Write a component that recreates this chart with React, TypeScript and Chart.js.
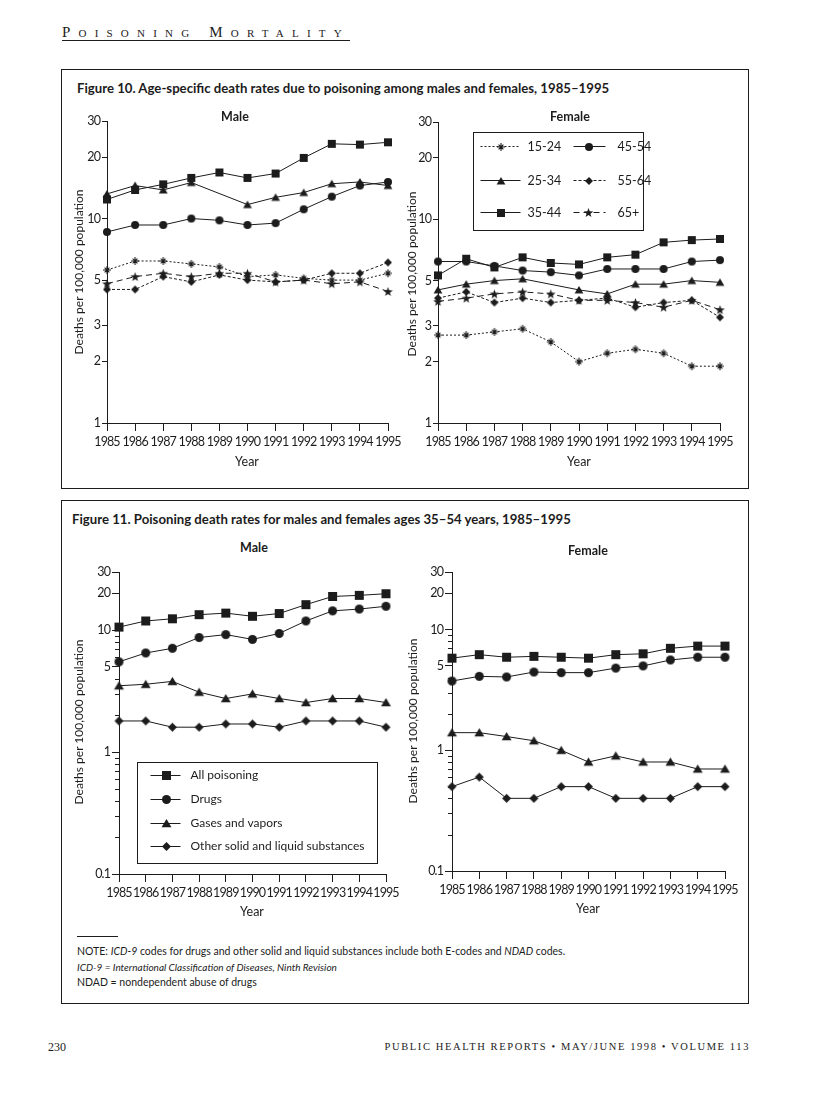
import React, { useEffect, useRef } from 'react';
import { Chart, registerables } from 'chart.js';

Chart.register(...registerables);

// ---------------- DATA ----------------
const YEARS = ['1985', '1986', '1987', '1988', '1989', '1990', '1991', '1992', '1993', '1994', '1995'];

const FIG10_TICKS = [1, 2, 3, 5, 10, 20, 30];
const FIG11_TICKS = [0.1, 1, 5, 10, 20, 30];
const FIG11_MINOR_TICKS = [0.2, 0.3, 0.4, 0.5, 0.6, 0.7, 0.8, 0.9, 2, 3, 4, 6, 7, 8, 9];

const AGE_GROUPS = ['15-24', '25-34', '35-44', '45-54', '55-64', '65+'];
const CAUSES = ['All poisoning', 'Drugs', 'Gases and vapors', 'Other solid and liquid substances'];

// Figure 10, male (deaths per 100,000)
const MALE_15_24 = [5.6, 6.2, 6.2, 6.0, 5.8, 5.2, 5.3, 5.1, 5.0, 5.0, 5.4];
const MALE_25_34 = [13.2, 14.5, 13.8, 15.0, null, 11.7, 12.7, 13.4, 14.8, 15.1, 14.5];
const MALE_35_44 = [12.4, 13.8, 14.7, 15.8, 16.8, 15.8, 16.6, 19.8, 23.2, 23.0, 23.6];
const MALE_45_54 = [8.6, 9.3, 9.3, 10.0, 9.8, 9.3, 9.5, 11.1, 12.8, 14.5, 15.1];
const MALE_55_64 = [4.5, 4.5, 5.2, 4.9, 5.3, 5.0, 4.9, 5.0, 5.4, 5.4, 6.1];
const MALE_65P = [4.8, 5.2, 5.4, 5.2, 5.4, 5.4, 4.9, 5.0, 4.8, 4.9, 4.4];

// Figure 10, female
const FEMALE_15_24 = [2.7, 2.7, 2.8, 2.9, 2.5, 2.0, 2.2, 2.3, 2.2, 1.9, 1.9];
const FEMALE_25_34 = [4.5, 4.8, 5.0, 5.1, null, 4.5, 4.3, 4.8, 4.8, 5.0, 4.9];
const FEMALE_35_44 = [5.3, 6.4, 5.8, 6.5, 6.1, 6.0, 6.5, 6.7, 7.7, 7.9, 8.0];
const FEMALE_45_54 = [6.2, 6.2, 5.9, 5.6, 5.5, 5.3, 5.7, 5.7, 5.7, 6.2, 6.3];
const FEMALE_55_64 = [4.1, 4.4, 3.9, 4.1, 3.9, 4.0, 4.1, 3.7, 3.9, 4.0, 3.3];
const FEMALE_65P = [3.95, 4.1, 4.3, 4.4, 4.3, 4.0, 4.0, 3.9, 3.7, 4.0, 3.6];

// Figure 11, ages 35-54, male
const MALE_ALL = [10.6, 11.9, 12.4, 13.4, 13.8, 13.0, 13.7, 16.2, 18.9, 19.3, 19.9];
const MALE_DRUGS = [5.5, 6.5, 7.1, 8.7, 9.2, 8.4, 9.4, 11.9, 14.4, 14.9, 15.7];
const MALE_GASES = [3.5, 3.6, 3.8, 3.1, 2.75, 3.0, 2.75, 2.55, 2.75, 2.75, 2.55];
const MALE_OTHER = [1.8, 1.8, 1.6, 1.6, 1.7, 1.7, 1.6, 1.8, 1.8, 1.8, 1.6];

// Figure 11, ages 35-54, female
const FEMALE_ALL = [5.8, 6.2, 5.9, 6.0, 5.9, 5.8, 6.2, 6.3, 7.0, 7.3, 7.3];
const FEMALE_DRUGS = [3.75, 4.1, 4.05, 4.45, 4.4, 4.4, 4.8, 5.0, 5.6, 5.9, 5.9];
const FEMALE_GASES = [1.4, 1.4, 1.3, 1.2, 1.0, 0.8, 0.9, 0.8, 0.8, 0.7, 0.7];
const FEMALE_OTHER = [0.5, 0.6, 0.4, 0.4, 0.5, 0.5, 0.4, 0.4, 0.4, 0.5, 0.5];

// ---------------- STYLE ----------------
const SANS = 'Lato, "Noto Sans", "DejaVu Sans", sans-serif';
const SERIF = '"Liberation Serif", "DejaVu Serif", serif';
const INK = '#1c1c1c';

Chart.defaults.font.family = SANS;
Chart.defaults.color = INK;

type MarkerKind = 'square' | 'circle' | 'triangle' | 'diamond' | 'asterisk' | 'star';

function makeMarker(kind: MarkerKind, size: number): HTMLCanvasElement {
  const pad = 2;
  const s = size + pad * 2;
  const c = document.createElement('canvas');
  c.width = s;
  c.height = s;
  const g = c.getContext('2d')!;
  g.fillStyle = INK;
  g.strokeStyle = INK;
  g.lineWidth = 1;
  const m = s / 2;
  const h = size / 2;
  g.beginPath();
  if (kind === 'square') {
    g.rect(m - h, m - h, size, size);
    g.fill();
  } else if (kind === 'circle') {
    g.arc(m, m, h, 0, Math.PI * 2);
    g.fill();
  } else if (kind === 'triangle') {
    g.moveTo(m, m - h);
    g.lineTo(m + h * 1.1, m + h * 0.85);
    g.lineTo(m - h * 1.1, m + h * 0.85);
    g.closePath();
    g.fill();
  } else if (kind === 'diamond') {
    g.moveTo(m, m - h);
    g.lineTo(m + h, m);
    g.lineTo(m, m + h);
    g.lineTo(m - h, m);
    g.closePath();
    g.fill();
  } else if (kind === 'asterisk') {
    for (let k = 0; k < 4; k++) {
      const a = (k * Math.PI) / 4;
      const r = k % 2 === 0 ? h : h * 0.85;
      g.moveTo(m + Math.cos(a) * r, m - Math.sin(a) * r);
      g.lineTo(m - Math.cos(a) * r, m + Math.sin(a) * r);
    }
    g.lineWidth = 1.1;
    g.stroke();
  } else if (kind === 'star') {
    for (let k = 0; k < 10; k++) {
      const r = k % 2 === 0 ? h + 0.5 : h * 0.45;
      const a = -Math.PI / 2 + (k * Math.PI) / 5;
      const px = m + Math.cos(a) * r;
      const py = m + 0.5 + Math.sin(a) * r;
      if (k === 0) g.moveTo(px, py);
      else g.lineTo(px, py);
    }
    g.closePath();
    g.fill();
  }
  return c;
}

type Series = { label: string; data: (number | null)[]; marker: MarkerKind; size: number; dash: number[] };

type LegendCfg = {
  dx: number;
  dy: number;
  w: number;
  h: number;
  rows: number[];
  cols: { l: number; r: number; m: number; t: number }[];
  place: { row: number; col: number }[];
  fontSize: number;
};

type PanelCfg = {
  box: { x: number; y: number; w: number; h: number };
  plot: { l: number; t: number; r: number; b: number };
  yMin: number;
  yMax: number;
  ticks: number[];
  minor?: number[];
  yTickLen: number;
  series: Series[];
  legend?: LegendCfg;
};

function LogPanel({ cfg }: { cfg: PanelCfg }) {
  const ref = useRef<HTMLCanvasElement>(null);
  useEffect(() => {
    const canvas = ref.current!;
    const { box, plot } = cfg;
    const yWidth = plot.l - box.x;
    const padTop = plot.t - box.y;
    const padRight = box.x + box.w - plot.r;
    const xHeight = box.y + box.h - plot.b;
    const markers = cfg.series.map((s) => makeMarker(s.marker, s.size));

    const extras = {
      id: 'panelExtras',
      beforeDraw(chart: any) {
        // slightly tighter numerals, closer to the original typeface
        (chart.ctx as any).letterSpacing = '-0.9px';
      },
      afterDatasetsDraw(chart: any) {
        (chart.ctx as any).letterSpacing = '0px';
      },
      afterDraw(chart: any) {
        const ctx = chart.ctx as CanvasRenderingContext2D;
        (ctx as any).letterSpacing = '0px';
        const area = chart.chartArea;
        const yScale = chart.scales.y;
        if (cfg.minor) {
          ctx.save();
          ctx.strokeStyle = INK;
          ctx.lineWidth = 1;
          ctx.beginPath();
          for (const v of cfg.minor) {
            const y = Math.round(yScale.getPixelForValue(v)) + 0.5;
            ctx.moveTo(area.left - 4, y);
            ctx.lineTo(area.left, y);
          }
          ctx.stroke();
          ctx.restore();
        }
        const lg = cfg.legend;
        if (lg) {
          ctx.save();
          const bx = Math.round(area.left + lg.dx) + 0.5;
          const by = Math.round(area.top + lg.dy) + 0.5;
          ctx.fillStyle = '#fff';
          ctx.fillRect(bx, by, lg.w, lg.h);
          ctx.strokeStyle = INK;
          ctx.lineWidth = 1;
          ctx.strokeRect(bx, by, lg.w, lg.h);
          cfg.series.forEach((s, i) => {
            const p = lg.place[i];
            const col = lg.cols[p.col];
            const y = Math.round(by + lg.rows[p.row]) + 0.5;
            ctx.beginPath();
            ctx.setLineDash(s.dash);
            ctx.moveTo(bx + col.l, y);
            ctx.lineTo(bx + col.r, y);
            ctx.stroke();
            ctx.setLineDash([]);
            const mk = markers[i];
            ctx.drawImage(mk, Math.round(bx + col.m - mk.width / 2), Math.round(y - mk.height / 2));
            ctx.fillStyle = INK;
            ctx.font = `${lg.fontSize}px ${SANS}`;
            ctx.textBaseline = 'middle';
            ctx.textAlign = 'left';
            ctx.fillText(s.label, bx + col.t, y);
          });
          ctx.restore();
        }
      },
    };

    const chart = new Chart(canvas, {
      type: 'line',
      data: {
        labels: YEARS,
        datasets: cfg.series.map((s, i) => ({
          label: s.label,
          data: s.data,
          borderColor: INK,
          backgroundColor: INK,
          borderWidth: 1,
          borderDash: s.dash,
          pointStyle: markers[i],
          pointRadius: 4,
          spanGaps: true,
          clip: false,
          fill: false,
          tension: 0,
        })),
      } as any,
      options: {
        responsive: false,
        animation: false,
        devicePixelRatio: 1,
        events: [],
        layout: { padding: { left: 0, top: padTop, right: padRight, bottom: 0 } },
        plugins: { legend: { display: false }, tooltip: { enabled: false }, title: { display: false } },
        scales: {
          x: {
            type: 'category',
            offset: false,
            grid: { display: true, drawOnChartArea: false, drawTicks: true, tickLength: 8, color: INK, tickColor: INK },
            border: { display: true, color: INK, width: 1 },
            ticks: {
              autoSkip: false,
              maxRotation: 0,
              minRotation: 0,
              padding: 3,
              color: INK,
              font: { family: SANS, size: 12.5 },
            },
            afterFit: (s: any) => {
              s.height = xHeight;
            },
          },
          y: {
            type: 'logarithmic',
            min: cfg.yMin,
            max: cfg.yMax,
            afterBuildTicks: (s: any) => {
              s.ticks = cfg.ticks.map((v) => ({ value: v }));
            },
            grid: { display: true, drawOnChartArea: false, drawTicks: true, tickLength: cfg.yTickLen, color: INK, tickColor: INK },
            border: { display: true, color: INK, width: 1 },
            ticks: {
              autoSkip: false,
              padding: 2,
              color: INK,
              font: { family: SANS, size: 12.5 },
              callback: (v: any) => String(v),
            },
            afterFit: (s: any) => {
              s.width = yWidth;
            },
          },
        },
      } as any,
      plugins: [extras],
    });
    return () => chart.destroy();
  }, [cfg]);

  return (
    <canvas
      ref={ref}
      width={cfg.box.w}
      height={cfg.box.h}
      style={{ position: 'absolute', left: cfg.box.x, top: cfg.box.y, width: cfg.box.w, height: cfg.box.h }}
    />
  );
}

const AGE_MARKERS: MarkerKind[] = ['asterisk', 'triangle', 'square', 'circle', 'diamond', 'star'];
const AGE_DASHES = [[2, 2], [], [], [], [3, 2], [6, 4]];
const AGE_SIZES = [8, 8, 8, 8, 8, 9];
const CAUSE_MARKERS: MarkerKind[] = ['square', 'circle', 'triangle', 'diamond'];
const CAUSE_SIZES = [9, 9, 9, 9];

const ageSeries = (rows: (number | null)[][]): Series[] =>
  rows.map((d, i) => ({ label: AGE_GROUPS[i], data: d, marker: AGE_MARKERS[i], size: AGE_SIZES[i], dash: AGE_DASHES[i] }));
const causeSeries = (rows: (number | null)[][]): Series[] =>
  rows.map((d, i) => ({ label: CAUSES[i], data: d, marker: CAUSE_MARKERS[i], size: CAUSE_SIZES[i], dash: [] }));

const PANEL_10M: PanelCfg = {
  box: { x: 80, y: 105, w: 330, h: 350 },
  plot: { l: 107, t: 121, r: 388, b: 423 },
  yMin: 1,
  yMax: 30,
  ticks: FIG10_TICKS,
  yTickLen: 5,
  series: ageSeries([MALE_15_24, MALE_25_34, MALE_35_44, MALE_45_54, MALE_55_64, MALE_65P]),
};

const PANEL_10F: PanelCfg = {
  box: { x: 412, y: 105, w: 330, h: 350 },
  plot: { l: 438, t: 122, r: 720, b: 423 },
  yMin: 1,
  yMax: 30,
  ticks: FIG10_TICKS,
  yTickLen: 5,
  series: ageSeries([FEMALE_15_24, FEMALE_25_34, FEMALE_35_44, FEMALE_45_54, FEMALE_55_64, FEMALE_65P]),
  legend: {
    dx: 35,
    dy: 10,
    w: 170,
    h: 98,
    rows: [13, 47, 79],
    cols: [
      { l: 7, r: 47, m: 27, t: 54 },
      { l: 100, r: 132, m: 115, t: 144 },
    ],
    place: [
      { row: 0, col: 0 },
      { row: 1, col: 0 },
      { row: 2, col: 0 },
      { row: 0, col: 1 },
      { row: 1, col: 1 },
      { row: 2, col: 1 },
    ],
    fontSize: 12.5,
  },
};

const PANEL_11M: PanelCfg = {
  box: { x: 86, y: 556, w: 322, h: 350 },
  plot: { l: 119, t: 572, r: 386, b: 874 },
  yMin: 0.1,
  yMax: 30,
  ticks: FIG11_TICKS,
  minor: FIG11_MINOR_TICKS,
  yTickLen: 7,
  series: causeSeries([MALE_ALL, MALE_DRUGS, MALE_GASES, MALE_OTHER]),
  legend: {
    dx: 18,
    dy: 190,
    w: 240,
    h: 101,
    rows: [12, 36, 60, 83],
    cols: [{ l: 13, r: 43, m: 29, t: 53 }],
    place: [
      { row: 0, col: 0 },
      { row: 1, col: 0 },
      { row: 2, col: 0 },
      { row: 3, col: 0 },
    ],
    fontSize: 12,
  },
};

const PANEL_11F: PanelCfg = {
  box: { x: 420, y: 556, w: 326, h: 350 },
  plot: { l: 452, t: 572, r: 725, b: 871 },
  yMin: 0.1,
  yMax: 30,
  ticks: FIG11_TICKS,
  minor: FIG11_MINOR_TICKS,
  yTickLen: 7,
  series: causeSeries([FEMALE_ALL, FEMALE_DRUGS, FEMALE_GASES, FEMALE_OTHER]),
};

type TxtProps = {
  x: number;
  y: number;
  children: React.ReactNode;
  anchor?: 'start' | 'middle' | 'end';
  size?: number;
  weight?: number;
  family?: string;
  italic?: boolean;
  rotate?: boolean;
  spacing?: number;
  extra?: React.CSSProperties;
};

function Txt({ x, y, children, anchor = 'start', size = 12, weight = 400, family = SANS, italic, rotate, spacing, extra }: TxtProps) {
  const tx = rotate || anchor === 'middle' ? '-50%' : anchor === 'end' ? '-100%' : '0';
  return (
    <div
      style={{
        position: 'absolute',
        left: x,
        top: y,
        transform: `translate(${tx}, -50%)${rotate ? ' rotate(-90deg)' : ''}`,
        fontFamily: family,
        fontSize: size,
        fontWeight: weight,
        fontStyle: italic ? 'italic' : 'normal',
        letterSpacing: spacing,
        lineHeight: 1,
        whiteSpace: 'nowrap',
        color: INK,
        ...extra,
      }}
    >
      {children}
    </div>
  );
}

const YTITLE = 'Deaths per 100,000 population';

export default function App() {
  return (
    <div style={{ position: 'absolute', left: 0, top: 0, width: 816, height: 1097, background: '#fff', overflow: 'hidden' }}>
      {/* running head */}
      <Txt x={62} y={32} size={15} family={SERIF} spacing={8.2} extra={{ fontVariant: 'small-caps' }}>
        Poisoning Mortality
      </Txt>
      <div style={{ position: 'absolute', left: 62, top: 40, width: 288, height: 1, background: INK }} />

      {/* figure boxes */}
      <div style={{ position: 'absolute', left: 61, top: 69, width: 686, height: 418, border: `1px solid ${INK}` }} />
      <div style={{ position: 'absolute', left: 61, top: 500, width: 686, height: 502, border: `1px solid ${INK}` }} />

      <LogPanel cfg={PANEL_10M} />
      <LogPanel cfg={PANEL_10F} />
      <LogPanel cfg={PANEL_11M} />
      <LogPanel cfg={PANEL_11F} />

      <Txt x={77} y={89} size={13.2} weight={700}>
        Figure 10. Age-specific death rates due to poisoning among males and females, 1985–1995
      </Txt>
      <Txt x={235} y={117} size={12.5} weight={700} anchor="middle">Male</Txt>
      <Txt x={570} y={117} size={12.5} weight={700} anchor="middle">Female</Txt>
      <Txt x={79} y={272} size={12} rotate>{YTITLE}</Txt>
      <Txt x={412} y={274} size={12} rotate>{YTITLE}</Txt>
      <Txt x={247} y={462} size={12.5} anchor="middle">Year</Txt>
      <Txt x={579} y={462} size={12.5} anchor="middle">Year</Txt>

      <Txt x={72} y={520} size={13.2} weight={700}>
        Figure 11. Poisoning death rates for males and females ages 35–54 years, 1985–1995
      </Txt>
      <Txt x={254} y={548} size={12.5} weight={700} anchor="middle">Male</Txt>
      <Txt x={588} y={551} size={12.5} weight={700} anchor="middle">Female</Txt>
      <Txt x={79} y={722} size={12} rotate>{YTITLE}</Txt>
      <Txt x={413} y={721} size={12} rotate>{YTITLE}</Txt>
      <Txt x={252} y={912} size={12.5} anchor="middle">Year</Txt>
      <Txt x={588} y={909} size={12.5} anchor="middle">Year</Txt>

      {/* notes */}
      <div style={{ position: 'absolute', left: 77, top: 936, width: 41, height: 1, background: INK }} />
      <Txt x={77} y={951} size={10.5}>
        NOTE: <i>ICD-9</i> codes for drugs and other solid and liquid substances include both E-codes and <i>NDAD</i> codes.
      </Txt>
      <Txt x={77} y={967} size={10} italic>
        ICD-9 = International Classification of Diseases, Ninth Revision
      </Txt>
      <Txt x={77} y={982} size={10.5}>
        NDAD = nondependent abuse of drugs
      </Txt>

      {/* folio */}
      <Txt x={48} y={1047} size={12} family={SERIF}>230</Txt>
      <Txt x={750} y={1047} size={10.5} family={SERIF} spacing={1.6} anchor="end">
        PUBLIC HEALTH REPORTS • MAY/JUNE 1998 • VOLUME 113
      </Txt>
    </div>
  );
}
